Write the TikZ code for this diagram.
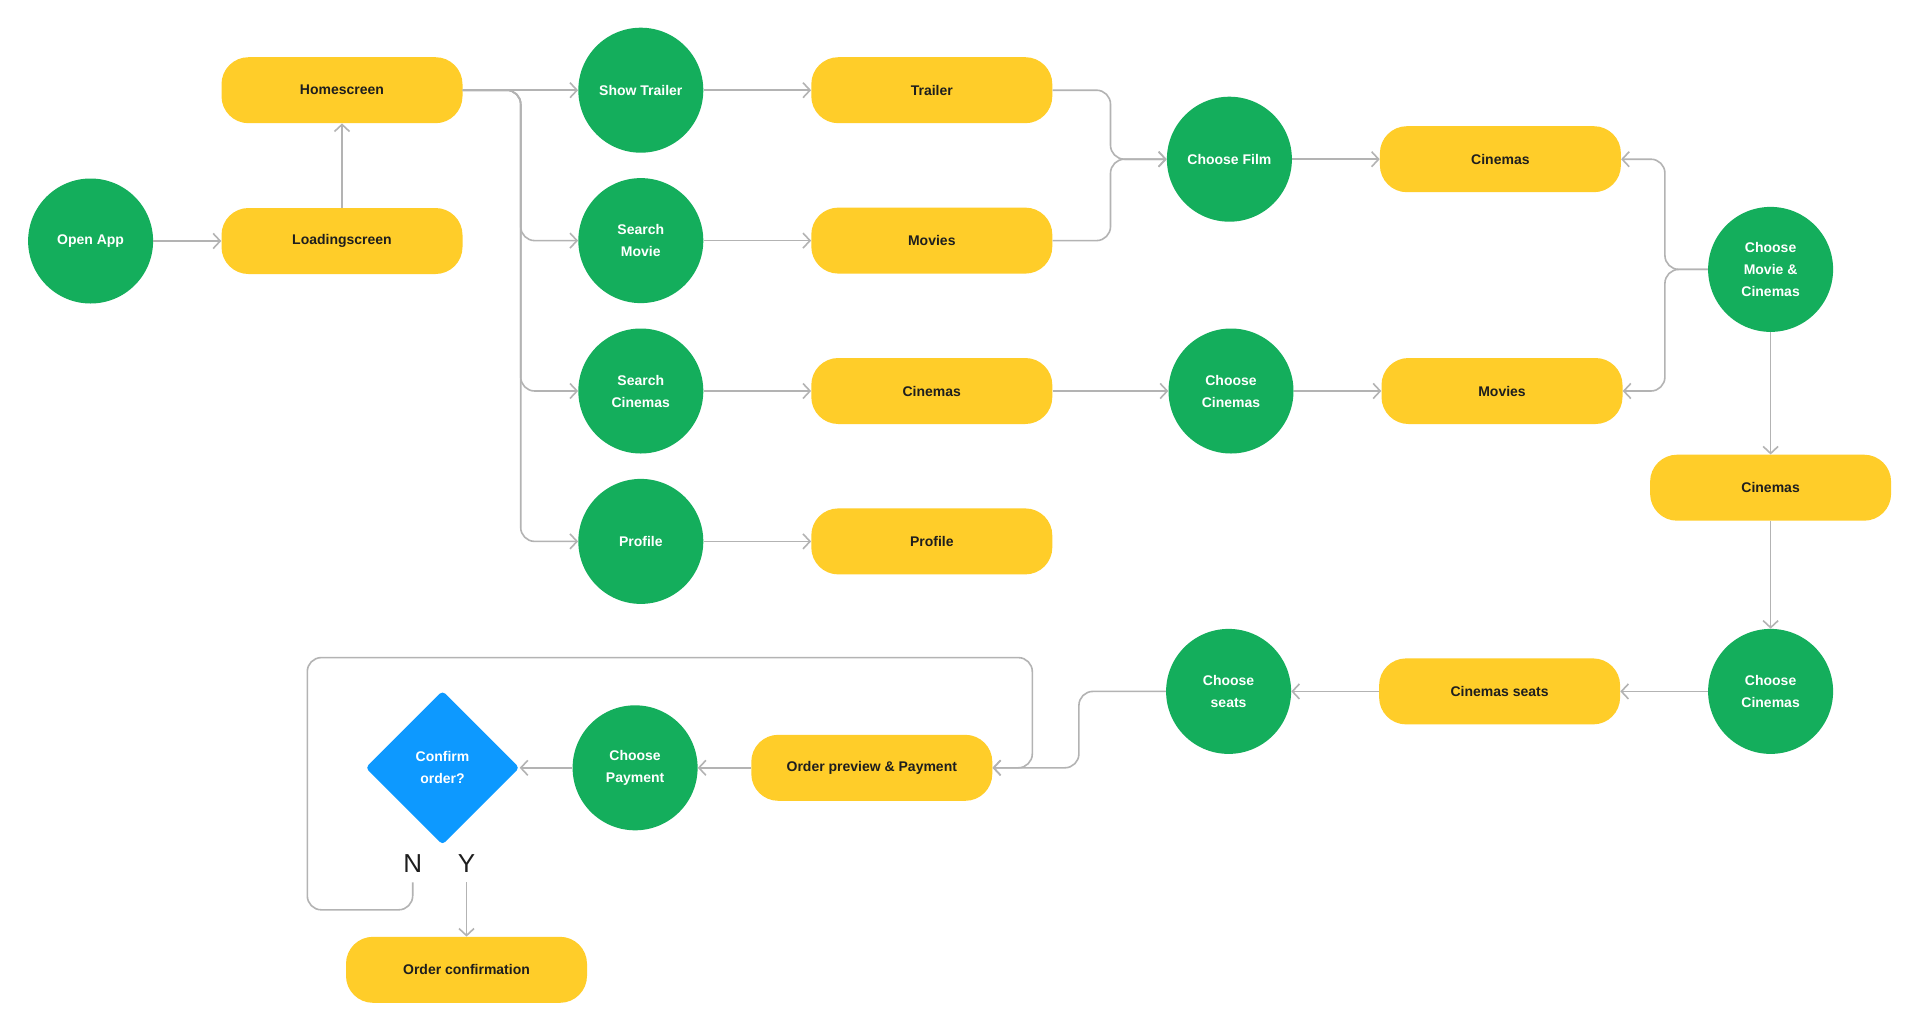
\documentclass[tikz,border=0pt]{standalone}
\usepackage{fontspec}
\setmainfont{Liberation Sans}
\usetikzlibrary{positioning, arrows.meta, shapes.geometric}
\definecolor{flowgreen}{HTML}{14AE5C}
\definecolor{flowyellow}{HTML}{FFCD29}
\definecolor{flowblue}{HTML}{0D99FF}
\definecolor{flowgray}{HTML}{B3B3B3}
\definecolor{flowtext}{HTML}{1E1E1E}
\tikzstyle{screen} = [rectangle, rounded corners=27pt, fill=flowyellow, text=flowtext, minimum width=241pt, minimum height=66pt, font=\fontsize{14}{22}\selectfont\bfseries]
\tikzstyle{action} = [circle, fill=flowgreen, text=white, minimum size=125pt, inner sep=0pt, align=center, font=\fontsize{14}{22}\selectfont\bfseries]
\tikzstyle{decision} = [diamond, aspect=1, fill=flowblue, text=white, minimum size=154pt, inner sep=0pt, rounded corners=4pt, align=center, font=\fontsize{14}{22}\selectfont\bfseries]
\tikzstyle{choice} = [font=\fontsize{26}{30}\selectfont, text=flowtext, inner sep=0pt, outer sep=10pt]
\tikzstyle{arrow} = [line width=1.6pt, draw=flowgray, -{Straight Barb[length=7pt, width=15pt]}, rounded corners=14pt]

\begin{document}
\begin{tikzpicture}[x=1pt, y=-1pt]

  \fill[white] (0,0) rectangle (1920,1034);
  \useasboundingbox (0,0) rectangle (1920,1034);

  % Start
  \node (openapp) [action] at (90.6,241) {Open App};
  \node (loading) [screen, right=68pt of openapp] {Loadingscreen};
  \node (home) [screen, above=84.4pt of loading] {Homescreen};

  % Home menu
  \node (showtrailer) [action, right=115.4pt of home] {Show Trailer};
  \node (searchmovie) [action, below=25pt of showtrailer] {Search\\Movie};
  \node (searchcinemas) [action, below=25pt of searchmovie] {Search\\Cinemas};
  \node (profile) [action, below=25pt of searchcinemas] {Profile};

  \node (trailer) [screen, right=107.6pt of showtrailer] {Trailer};
  \node (movies) [screen, right=107.6pt of searchmovie] {Movies};
  \node (cinemas) [screen, right=107.6pt of searchcinemas] {Cinemas};
  \node (profilescreen) [screen, right=107.6pt of profile] {Profile};

  % Film / cinema choice
  \node (choosefilm) [action] at (1229.4,159.2) {Choose Film};
  \node (choosecinemas) [action, right=115.8pt of cinemas] {Choose\\Cinemas};
  \node (filmcinemas) [screen, right=87.6pt of choosefilm] {Cinemas};
  \node (cinemamovies) [screen, right=87.6pt of choosecinemas] {Movies};
  \node (choosemc) [action] at (1770.6,269.4) {Choose\\Movie \&\\Cinemas};

  % Right column
  \node (mccinemas) [screen, below=122.4pt of choosemc] {Cinemas};
  \node (choosecinemas2) [action, below=107.8pt of mccinemas] {Choose\\Cinemas};
  \node (seats) [screen, left=87.6pt of choosecinemas2] {Cinemas seats};
  \node (chooseseats) [action, left=87.6pt of seats] {Choose\\seats};

  % Payment
  \node (order) [screen] at (871.8,767.8) {Order preview \& Payment};
  \node (choosepay) [action, left=53.3pt of order] {Choose\\Payment};
  \node (confirm) [decision, left=52.7pt of choosepay] {Confirm\\order?};
  \node (no) [choice] at (412.7,863.3) {N};
  \node (yes) [choice] at (466.5,863.3) {Y};
  \node (orderconfirm) [screen] at (466.5,969.8) {Order confirmation};

  \coordinate (homebus) at ([xshift=58pt]home.east);
  \coordinate (loopleft) at (307.3,909.8);
  \coordinate (loopright) at (1032.3,657.6);

  % Arrows (main flow)
  \draw[arrow] (openapp) -- (loading);
  \draw[arrow] (loading) -- (home);
  \draw[arrow] (home) -- (showtrailer);
  \draw[arrow] (home.east) -- (homebus) |- (searchmovie);
  \draw[arrow] (home.east) -- (homebus) |- (searchcinemas);
  \draw[arrow] (home.east) -- (homebus) |- (profile);

  \draw[arrow] (showtrailer) -- (trailer);
  \draw[arrow] (searchmovie) -- (movies);
  \draw[arrow] (searchcinemas) -- (cinemas);
  \draw[arrow] (profile) -- (profilescreen);

  \draw[arrow] (trailer.east) -- ++(58,0) |- (choosefilm);
  \draw[arrow] (movies.east) -- ++(58,0) |- (choosefilm);
  \draw[arrow] (choosefilm) -- (filmcinemas);
  \draw[arrow] (cinemas) -- (choosecinemas);
  \draw[arrow] (choosecinemas) -- (cinemamovies);

  \draw[arrow] (choosemc.west) -- ++(-43,0) |- (filmcinemas);
  \draw[arrow] (choosemc.west) -- ++(-43,0) |- (cinemamovies);
  \draw[arrow] (choosemc) -- (mccinemas);
  \draw[arrow] (mccinemas) -- (choosecinemas2);
  \draw[arrow] (choosecinemas2) -- (seats);
  \draw[arrow] (seats) -- (chooseseats);
  \draw[arrow] (chooseseats.west) -- ++(-87,0) |- (order);

  \draw[arrow] (order) -- (choosepay);
  \draw[arrow] (choosepay) -- (confirm);

  % Decision
  \draw[arrow] (yes) -- (orderconfirm);
  \draw[arrow] (no) |- (loopleft) |- (loopright) |- (order);

\end{tikzpicture}
\end{document}
